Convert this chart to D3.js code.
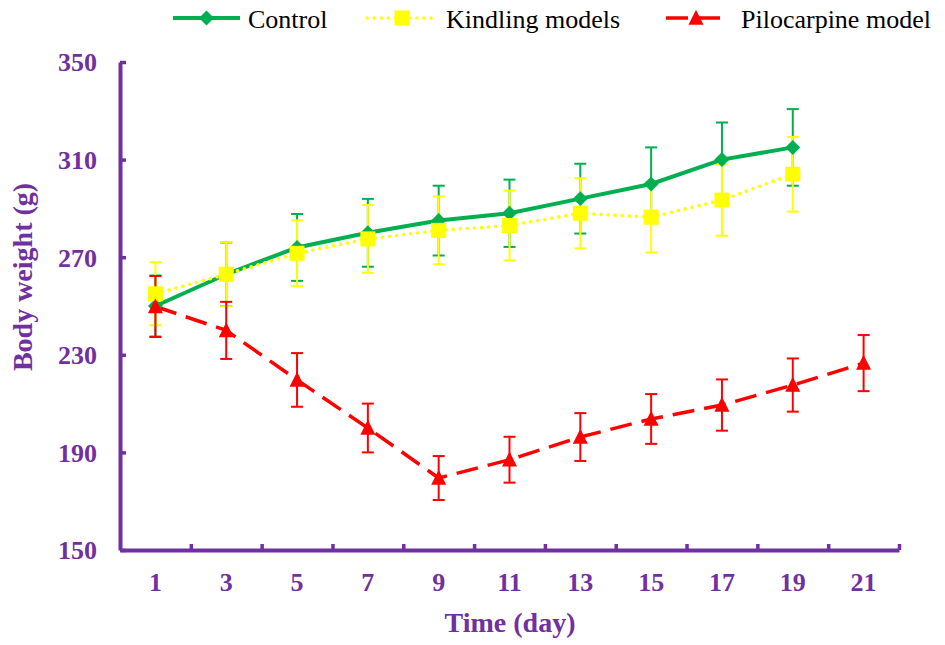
<!DOCTYPE html>
<html>
<head>
<meta charset="utf-8">
<script src="https://cdn.jsdelivr.net/npm/d3@7"></script>
<style>
  body { margin: 0; background: #fff; }
  svg text { font-family: "Liberation Serif", "Times New Roman", serif; }
</style>
</head>
<body>
<div id="chart"></div>
<script>
const days = [1, 3, 5, 7, 9, 11, 13, 15, 17, 19, 21];
const yTicks = [150, 190, 230, 270, 310, 350];

const controlMean = [250, 263, 274, 280, 285, 288, 294, 300, 310, 315];
const controlErr = [12.5, 13, 13.7, 13.9, 14.3, 13.8, 14.3, 15, 15.2, 15.7];

const kindlingMean = [255, 263, 271.6, 277.5, 281, 283, 288, 286.4, 293.4, 304];
const kindlingErr = [12.9, 13.1, 13.5, 13.9, 13.9, 14.3, 14.4, 14.5, 14.6, 15.3];

const pilocarpineMean = [249.8, 240, 219.7, 200, 179.5, 187, 196.3, 203.7, 209.4, 217.6, 226.6];
const pilocarpineErr = [12.5, 11.7, 11, 10, 9, 9.4, 9.8, 10.2, 10.5, 10.9, 11.5];

function init() {
    const w = 945, h = 645;
    const purple = "#7030A0";
    const serif = "'Liberation Serif', 'Times New Roman', serif";

    const svg = d3.select("#chart").append("svg")
        .attr("width", w)
        .attr("height", h);

    const x = d3.scaleLinear().domain([0, 22]).range([120, 899]);
    const y = d3.scaleLinear().domain([150, 350]).range([550, 62]);

    // triangle marker like Excel's
    const triangle = {
        draw(ctx, size) {
            const s = Math.sqrt(size);
            ctx.moveTo(0, -0.55 * s);
            ctx.lineTo(0.5 * s, 0.45 * s);
            ctx.lineTo(-0.5 * s, 0.45 * s);
            ctx.closePath();
        }
    };

    const series = [
        { name: "Control", mean: controlMean, err: controlErr, color: "#00B050",
          width: 4, dash: null, cap: "butt", symbol: d3.symbolSquare, size: 112, rotate: 45 },
        { name: "Kindling models", mean: kindlingMean, err: kindlingErr, color: "#FFFF00",
          width: 3.5, dash: "0.1 7", cap: "round", symbol: d3.symbolSquare, size: 225, rotate: 0 },
        { name: "Pilocarpine model", mean: pilocarpineMean, err: pilocarpineErr, color: "#FF0000",
          width: 3.5, dash: "22 10", cap: "butt", symbol: triangle, size: 225, rotate: 0 }
    ];
    series.forEach(s => {
        s.points = s.mean.map((v, i) => ({ day: days[i], v: v, e: s.err[i] }));
    });

    // axes
    const yAxis = d3.axisLeft(y)
        .tickValues(yTicks)
        .tickSizeInner(-6)
        .tickSizeOuter(0)
        .tickPadding(23);
    const gy = svg.append("g").attr("transform", "translate(120,0)").call(yAxis);

    const xAxis = d3.axisBottom(x)
        .tickValues(d3.range(2, 23, 2))
        .tickSizeInner(-6)
        .tickSizeOuter(0)
        .tickFormat("");
    const gx = svg.append("g").attr("transform", "translate(0,550)").call(xAxis);

    [gx, gy].forEach(g => {
        g.select(".domain").attr("stroke", purple).attr("stroke-width", 4);
        g.selectAll(".tick line").attr("stroke", purple).attr("stroke-width", 3.5);
    });
    gy.attr("font-family", serif);
    gy.selectAll(".tick text")
        .attr("fill", purple)
        .attr("font-size", "26px")
        .attr("font-weight", "bold")
        .attr("dy", "0.34em");

    svg.selectAll("text.xlabel")
        .data(days)
        .enter()
        .append("text")
        .attr("class", "xlabel")
        .text(d => d)
        .attr("x", d => x(d))
        .attr("y", 591)
        .attr("text-anchor", "middle")
        .attr("font-family", serif)
        .attr("font-size", "26px")
        .attr("font-weight", "bold")
        .attr("fill", purple);

    // axis titles
    svg.append("text")
        .text("Time (day)")
        .attr("x", 510)
        .attr("y", 632)
        .attr("text-anchor", "middle")
        .attr("font-family", serif)
        .attr("font-size", "28px")
        .attr("font-weight", "bold")
        .attr("fill", purple);

    svg.append("text")
        .text("Body weight (g)")
        .attr("transform", "translate(32,277) rotate(-90)")
        .attr("text-anchor", "middle")
        .attr("font-family", serif)
        .attr("font-size", "28px")
        .attr("font-weight", "bold")
        .attr("fill", purple);

    // error bars
    series.forEach(s => {
        const g = svg.append("g").attr("stroke", s.color).attr("stroke-width", 2);
        g.selectAll("line.v")
            .data(s.points)
            .enter()
            .append("line")
            .attr("x1", d => x(d.day)).attr("x2", d => x(d.day))
            .attr("y1", d => y(d.v - d.e)).attr("y2", d => y(d.v + d.e));
        g.selectAll("line.top")
            .data(s.points)
            .enter()
            .append("line")
            .attr("x1", d => x(d.day) - 6).attr("x2", d => x(d.day) + 6)
            .attr("y1", d => y(d.v + d.e)).attr("y2", d => y(d.v + d.e));
        g.selectAll("line.bot")
            .data(s.points)
            .enter()
            .append("line")
            .attr("x1", d => x(d.day) - 6).attr("x2", d => x(d.day) + 6)
            .attr("y1", d => y(d.v - d.e)).attr("y2", d => y(d.v - d.e));
    });

    // lines
    const line = d3.line().x(d => x(d.day)).y(d => y(d.v));
    series.forEach(s => {
        svg.append("path")
            .datum(s.points)
            .attr("d", line)
            .attr("fill", "none")
            .attr("stroke", s.color)
            .attr("stroke-width", s.width)
            .attr("stroke-linecap", s.cap)
            .attr("stroke-dasharray", s.dash);
    });

    // markers
    series.forEach(s => {
        const sym = d3.symbol().type(s.symbol).size(s.size);
        svg.selectAll(null)
            .data(s.points)
            .enter()
            .append("path")
            .attr("d", sym)
            .attr("transform", d => `translate(${x(d.day)},${y(d.v)}) rotate(${s.rotate})`)
            .attr("fill", s.color);
    });

    // legend
    const legendX = [[173, 240, 248], [367, 437, 446], [666, 726, 741]];
    series.forEach((s, i) => {
        const [x1, x2, tx] = legendX[i];
        const g = svg.append("g");
        g.append("line")
            .attr("x1", x1).attr("x2", x2)
            .attr("y1", 18).attr("y2", 18)
            .attr("stroke", s.color)
            .attr("stroke-width", s.width)
            .attr("stroke-linecap", s.cap)
            .attr("stroke-dasharray", s.dash);
        g.append("path")
            .attr("d", d3.symbol().type(s.symbol).size(s.size))
            .attr("transform", `translate(${(x1 + x2) / 2},18) rotate(${s.rotate})`)
            .attr("fill", s.color);
        g.append("text")
            .text(s.name)
            .attr("x", tx)
            .attr("y", 28)
            .attr("font-family", serif)
            .attr("font-size", "26px")
            .attr("fill", "#000");
    });
}

window.onload = init;
</script>
</body>
</html>
